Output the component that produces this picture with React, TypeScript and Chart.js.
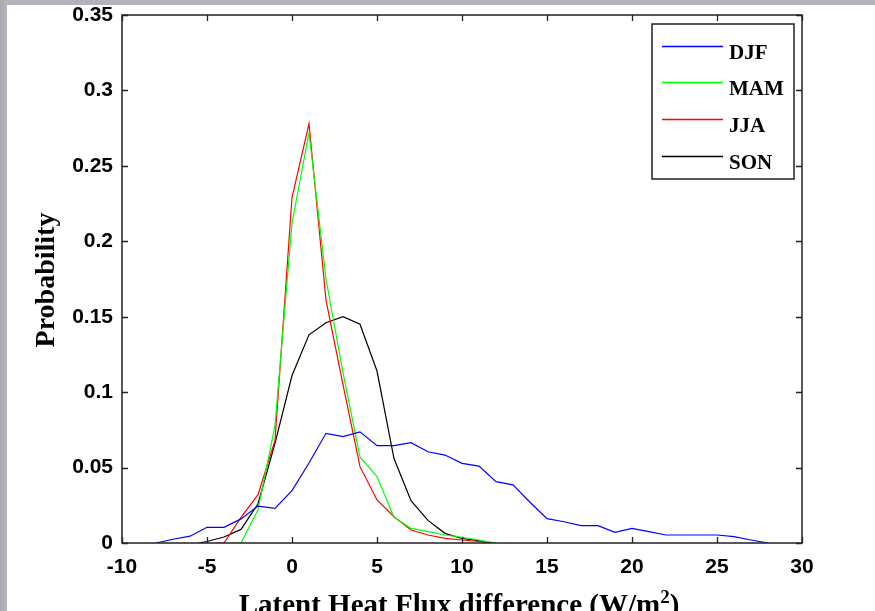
import React, { useEffect, useRef } from 'react';
import { Chart, registerables } from 'chart.js';
Chart.register(...registerables);

// ---- data ----
const seriesNames = ['DJF', 'MAM', 'JJA', 'SON'];

const djfX = [-8, -7, -6, -5, -4, -3, -2, -1, 0, 1, 2, 3, 4, 5, 6, 7, 8, 9, 10, 11, 12, 13, 14, 15, 16, 17, 18, 19, 20, 21, 22, 23, 24, 25, 26, 27, 28];
const djfY = [0, 0.0025, 0.0045, 0.0104, 0.0104, 0.016, 0.0245, 0.023, 0.0347, 0.053, 0.0727, 0.0705, 0.0737, 0.0645, 0.0645, 0.0665, 0.0605, 0.0583, 0.0528, 0.051, 0.0407, 0.0385, 0.027, 0.0161, 0.0141, 0.0115, 0.0115, 0.0071, 0.0097, 0.0075, 0.0053, 0.0053, 0.0053, 0.0053, 0.0042, 0.002, 0];

const mamX = [-3.5, -3, -2, -1, 0, 1, 2, 3, 4, 5, 6, 7, 8, 9, 10, 11, 12];
const mamY = [0, 0, 0.022, 0.078, 0.212, 0.272, 0.175, 0.113, 0.057, 0.044, 0.017, 0.0097, 0.0075, 0.0053, 0.0038, 0.002, 0];

const jjaX = [-4.5, -4, -3, -2, -1, 0, 1, 2, 3, 4, 5, 6, 7, 8, 9, 10, 11, 12];
const jjaY = [0, 0, 0.017, 0.032, 0.068, 0.229, 0.278, 0.161, 0.105, 0.0506, 0.0285, 0.0174, 0.0086, 0.0053, 0.0031, 0.002, 0.001, 0];

const sonX = [-5.5, -5, -4, -3, -2, -1, 0, 1, 2, 3, 4, 5, 6, 7, 8, 9, 10, 11, 11.5];
const sonY = [0, 0.001, 0.004, 0.009, 0.026, 0.066, 0.111, 0.138, 0.146, 0.15, 0.145, 0.114, 0.056, 0.028, 0.015, 0.0064, 0.003, 0.0015, 0];

const xTicks = [-10, -5, 0, 5, 10, 15, 20, 25, 30];
const yTicks = [0, 0.05, 0.1, 0.15, 0.2, 0.25, 0.3, 0.35];

const colors = ['#0000ff', '#00ff00', '#ff0000', '#000000'];

const toPoints = (xs: number[], ys: number[]) => xs.map((x, i) => ({ x, y: ys[i] }));

const TICK_FONT = { family: '"Liberation Sans", Arial, sans-serif', weight: 'bold' as const, size: 21 };
const XTITLE_FONT = 'bold 29px "Liberation Serif", "Times New Roman", serif';
const YTITLE_FONT = 'bold 28px "Liberation Serif", "Times New Roman", serif';
const SUP_FONT = 'bold 19px "Liberation Serif", "Times New Roman", serif';
const LEGEND_FONT = 'bold 21px "Liberation Serif", "Times New Roman", serif';

const framePlugin = {
  id: 'matlabFrame',
  afterDraw(chart: any) {
    const { ctx, chartArea } = chart;
    const { left, right, top, bottom } = chartArea;
    const xs = chart.scales.x;
    const ys = chart.scales.y;
    ctx.save();
    // box
    ctx.strokeStyle = '#222';
    ctx.lineWidth = 1.5;
    ctx.strokeRect(left, top, right - left, bottom - top);
    // inward ticks
    ctx.lineWidth = 1.3;
    ctx.beginPath();
    const tl = 6;
    xTicks.forEach((v) => {
      const px = Math.round(xs.getPixelForValue(v)) + 0.5;
      ctx.moveTo(px, bottom);
      ctx.lineTo(px, bottom - tl);
      ctx.moveTo(px, top);
      ctx.lineTo(px, top + tl);
    });
    yTicks.forEach((v) => {
      const py = Math.round(ys.getPixelForValue(v)) + 0.5;
      ctx.moveTo(left, py);
      ctx.lineTo(left + tl, py);
      ctx.moveTo(right, py);
      ctx.lineTo(right - tl, py);
    });
    ctx.stroke();

    // legend
    const lx = 652, ly = 24, lw = 142, lh = 155;
    ctx.fillStyle = '#fff';
    ctx.fillRect(lx, ly, lw, lh);
    ctx.strokeStyle = '#222';
    ctx.lineWidth = 1.5;
    ctx.strokeRect(lx, ly, lw, lh);
    const rows = [46, 82, 119, 156];
    ctx.font = LEGEND_FONT;
    ctx.textAlign = 'left';
    ctx.textBaseline = 'alphabetic';
    seriesNames.forEach((name, i) => {
      ctx.strokeStyle = colors[i];
      ctx.lineWidth = 1.5;
      ctx.beginPath();
      ctx.moveTo(662, rows[i] + 0.5);
      ctx.lineTo(723, rows[i] + 0.5);
      ctx.stroke();
      ctx.fillStyle = '#000';
      ctx.fillText(name, 729, rows[i] + 12.5);
    });

    // x title
    ctx.fillStyle = '#000';
    const main = 'Latent Heat Flux difference (W/m';
    ctx.font = XTITLE_FONT;
    const w1 = ctx.measureText(main).width;
    const w3 = ctx.measureText(')').width;
    ctx.font = SUP_FONT;
    const w2 = ctx.measureText('2').width;
    const total = w1 + w2 + w3;
    const cx = (left + right) / 2 - 3;
    let sx = cx - total / 2;
    const base = 614;
    ctx.font = XTITLE_FONT;
    ctx.fillText(main, sx, base);
    sx += w1;
    ctx.font = SUP_FONT;
    ctx.fillText('2', sx, base - 11);
    sx += w2;
    ctx.font = XTITLE_FONT;
    ctx.fillText(')', sx, base);

    // y title
    ctx.save();
    ctx.translate(54, (top + bottom) / 2 + 1);
    ctx.rotate(-Math.PI / 2);
    ctx.font = YTITLE_FONT;
    ctx.textAlign = 'center';
    ctx.fillText('Probability', 0, 0);
    ctx.restore();

    ctx.restore();
  },
};

export default function App() {
  const ref = useRef<HTMLCanvasElement | null>(null);
  useEffect(() => {
    if (!ref.current) return;
    const datasets = [
      toPoints(djfX, djfY),
      toPoints(mamX, mamY),
      toPoints(jjaX, jjaY),
      toPoints(sonX, sonY),
    ].map((data, i) => ({
      label: seriesNames[i],
      data,
      showLine: true,
      borderColor: colors[i],
      backgroundColor: colors[i],
      borderWidth: 1.2,
      pointRadius: 0,
      tension: 0,
      fill: false,
    }));
    const chart = new Chart(ref.current, {
      type: 'scatter',
      data: { datasets },
      options: {
        animation: false,
        responsive: false,
        maintainAspectRatio: false,
        layout: { padding: { left: 0, top: 15, right: 73, bottom: 0 } },
        plugins: { legend: { display: false }, tooltip: { enabled: false } },
        scales: {
          x: {
            type: 'linear',
            min: -10,
            max: 30,
            afterBuildTicks: (s: any) => { s.ticks = xTicks.map((v) => ({ value: v })); },
            ticks: { font: TICK_FONT, color: '#000', padding: 12, maxRotation: 0, autoSkip: false, callback: (v: any) => String(v) },
            grid: { display: false, drawTicks: false },
            border: { display: false },
            afterFit: (s: any) => { s.height = 68; s.paddingLeft = 0; s.paddingRight = 0; },
          },
          y: {
            type: 'linear',
            min: 0,
            max: 0.35,
            afterBuildTicks: (s: any) => { s.ticks = yTicks.map((v) => ({ value: v })); },
            ticks: { font: TICK_FONT, color: '#000', padding: 9, autoSkip: false, callback: (v: any) => String(parseFloat(Number(v).toFixed(2))) },
            grid: { display: false, drawTicks: false },
            border: { display: false },
            afterFit: (s: any) => { s.width = 122; s.paddingTop = 0; s.paddingBottom = 0; },
          },
        },
      },
      plugins: [framePlugin],
    });
    return () => chart.destroy();
  }, []);

  return (
    <div style={{ position: 'fixed', left: 0, top: 0, width: 875, height: 611, background: '#fff', overflow: 'hidden' }}>
      <div style={{ position: 'absolute', left: 0, top: 0, width: 875, height: 5, background: '#b4b2ba' }} />
      <div style={{ position: 'absolute', left: 0, top: 0, width: 7, height: 611, background: 'linear-gradient(to right, #a9a8b0, #b6b5bc)' }} />
      <canvas ref={ref} width={875} height={611} style={{ position: 'absolute', left: 0, top: 0, width: 875, height: 611 }} />
    </div>
  );
}
